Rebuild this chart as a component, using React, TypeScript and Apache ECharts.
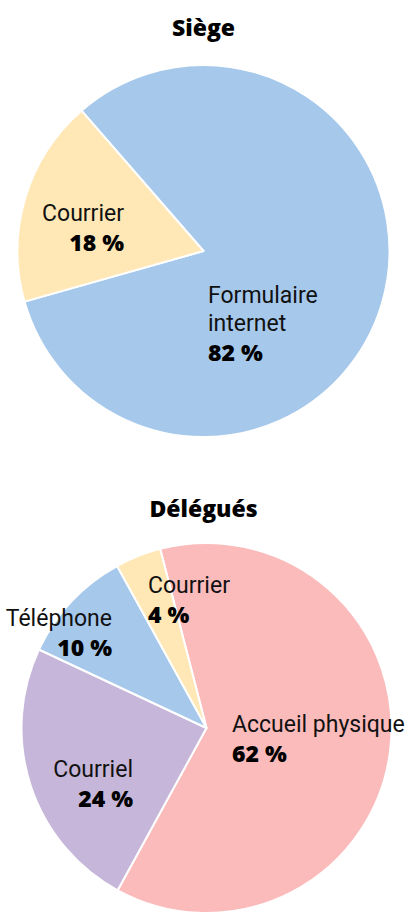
import React, { useEffect, useRef } from 'react';
import * as echarts from 'echarts';

// ---- Data ----
const chartTitles = ['Siège', 'Délégués'];
const siegeCategories = ['Formulaire internet', 'Courrier'];
const siegeValues = [82, 18];
const deleguesCategories = ['Accueil physique', 'Courriel', 'Téléphone', 'Courrier'];
const deleguesValues = [62, 24, 10, 4];
// label text as displayed (line breaks)
const siegeLabelNames = ['Formulaire\ninternet', 'Courrier'];
const deleguesLabelNames = ['Accueil physique', 'Courriel', 'Téléphone', 'Courrier'];

// ---- Styles ----
const siegeColors = ['#A5C8EB', '#FFE8B6'];
const deleguesColors = ['#FBBBBB', '#C6B6DA', '#A5C8EB', '#FFE8B6'];

const PIE1 = { cx: 203.5, cy: 251, r: 186, start: 131 };
const PIE2 = { cx: 206.5, cy: 728, r: 185, start: 104.5 };

// label anchor offsets from the pie center (block middle), with alignment
const siegeLabelAnchors = [
  { dx: 4.5, dy: 73, align: 'left' },
  { dx: -79.5, dy: -23, align: 'right' },
];
const deleguesLabelAnchors = [
  { dx: 25.5, dy: 11, align: 'left' },
  { dx: -73.5, dy: 56, align: 'right' },
  { dx: -94.5, dy: -95, align: 'right' },
  { dx: -58.5, dy: -128, align: 'left' },
];

const nameFont = 'Roboto, "Noto Sans", sans-serif';
const boldFont = '"Open Sans", sans-serif';

function buildSeries(
  names: string[],
  values: number[],
  labelNames: string[],
  colors: string[],
  pie: { cx: number; cy: number; r: number; start: number },
  anchors: { dx: number; dy: number; align: string }[]
) {
  return {
    type: 'pie',
    center: [pie.cx, pie.cy],
    radius: [0, pie.r],
    startAngle: pie.start,
    clockwise: true,
    avoidLabelOverlap: false,
    silent: true,
    itemStyle: { borderColor: '#ffffff', borderWidth: 2 },
    labelLine: { show: false },
    label: {
      show: true,
      position: 'inside',
      formatter: (p: any) => `{n|${labelNames[p.dataIndex]}}\n{p|${values[p.dataIndex]} %}`,
      rich: {
        n: { fontFamily: nameFont, fontSize: 23, fontWeight: 400, color: '#111', lineHeight: 28 },
        p: { fontFamily: boldFont, fontSize: 23, fontWeight: 800, color: '#000', lineHeight: 29 },
      },
    },
    labelLayout: (params: any) => {
      const a = anchors[params.dataIndex];
      return {
        x: pie.cx + a.dx,
        y: pie.cy + a.dy,
        align: a.align,
        verticalAlign: 'middle',
      };
    },
    data: names.map((n, i) => ({ name: n, value: values[i], itemStyle: { color: colors[i] } })),
  };
}

export default function App() {
  const ref = useRef<HTMLDivElement>(null);
  useEffect(() => {
    document.body.style.margin = '0';
    if (!ref.current) return;
    const chart = echarts.init(ref.current, null, { renderer: 'svg' });
    chart.setOption({
      animation: false,
      backgroundColor: '#ffffff',
      title: [
        {
          text: chartTitles[0],
          left: 'center',
          top: 10,
          textStyle: { fontFamily: '"Open Sans", sans-serif', fontWeight: 800, fontSize: 23, color: '#000' },
        },
        {
          text: chartTitles[1],
          left: 'center',
          top: 491,
          textStyle: { fontFamily: '"Open Sans", sans-serif', fontWeight: 800, fontSize: 23, color: '#000' },
        },
      ],
      series: [
        buildSeries(siegeCategories, siegeValues, siegeLabelNames, siegeColors, PIE1, siegeLabelAnchors),
        buildSeries(deleguesCategories, deleguesValues, deleguesLabelNames, deleguesColors, PIE2, deleguesLabelAnchors),
      ],
    });
    return () => chart.dispose();
  }, []);
  return <div ref={ref} style={{ width: 407, height: 914 }} />;
}
